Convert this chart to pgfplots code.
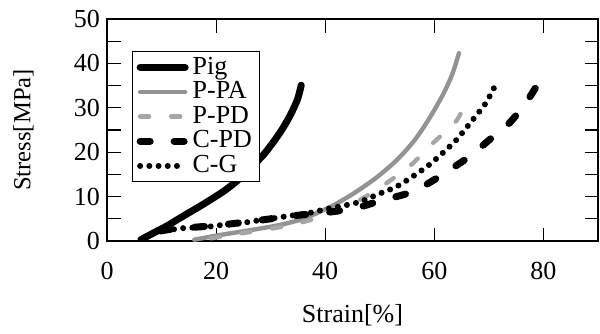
\documentclass[border=0pt]{standalone}
\usepackage{fontspec}
\setmainfont{Liberation Serif}
\usepackage{pgfplots}
\pgfplotsset{compat=1.18}
\usetikzlibrary{calc}
\begin{document}
\fontsize{13}{15.6}\selectfont
\begin{tikzpicture}
\begin{axis}[
  scale only axis, width=245.5pt, height=111pt,
  xmin=0, xmax=90, ymin=0, ymax=50,
  xtick={0,20,40,60,80}, ytick={0,10,...,50},
  minor ytick={5,15,...,45},
  tick align=inside, major tick length=6.75pt, minor tick length=6.75pt,
  every tick/.style={black, line width=0.6pt},
  axis line style={line width=0.8pt},
  /pgf/number format/assume math mode=true,
  tick label style={font=\fontsize{13}{15.6}\selectfont},
  xticklabel style={yshift=-6pt},
  yticklabel style={xshift=1pt},
  xlabel={Strain[\%]}, ylabel={Stress[MPa]},
  label style={font=\fontsize{13}{15.6}\selectfont},
  xlabel style={at={(axis description cs:0.5,-0.333)}, anchor=center},
  ylabel style={at={(axis description cs:-0.17,0.5)}, anchor=center, font=\fontsize{12.3}{15}\selectfont},
  legend style={at={(0.051,0.855)}, anchor=north west, draw=black, line width=0.6pt,
    inner xsep=2pt, inner ysep=0.5pt, row sep=-2.2pt, font=\fontsize{13}{15.6}\selectfont},
  legend cell align=left,
  legend image code/.code={\draw[#1] (0pt,0pt) -- (22.5pt,0pt);},
]
\addplot[black, line width=3.5pt, line cap=round, line join=round, smooth] coordinates {
(6.2,0.3)(8.5,1.8)(11,3.4)(13,4.9)(15.2,6.5)(17.4,8.1)(19.5,9.7)(21.5,11.3)(23.2,12.9)(24.8,14.6)(26.2,16.3)(28.6,19.3)(30.2,21.8)(31.7,24.4)(33,27)(34.1,29.6)(35,32.2)(35.6,35.1)};
\addlegendentry{Pig}
\addplot[gray!85, line width=2.2pt, line cap=round, smooth] coordinates {
(16,0.3)(20,1.2)(24,2)(28,2.8)(32,3.7)(36,5)(39,6.6)(41.3,7.9)(44,9.8)(46.3,11.6)(49.3,14.2)(52.4,17.4)(54.5,20)(56.5,22.9)(58.3,26.1)(60,29.5)(61.8,33.5)(63.3,37.6)(64.5,42.3)};
\addlegendentry{P-PA}
\addplot[gray!70, line width=2.2pt, line cap=round, dash pattern=on 4.5pt off 11pt, smooth] coordinates {
(64.8,28.6)(64,27)(62.7,25.4)(59,21.2)(56.5,18)(54.2,15.6)(52,13.7)(49.9,11.9)(47,9.7)(44,7.8)(40,5.8)(36,4.3)(32,3.2)(27,2.2)(22,1.2)(17,0.2)};
\addlegendentry{P-PD}
\addplot[black, line width=3.5pt, line cap=round, dash pattern=on 5pt off 12pt, smooth] coordinates {
(78.5,34.4)(76.7,31)(73.7,26.5)(70,22.7)(66.4,19)(60.9,14.5)(56,11.1)(49.9,9)(47,7.9)(43,6.9)(40,6.4)(35,5.8)(30,5)(25,4.2)(20,3.5)(16,3.1)(13,2.8)(10,2.3)(8,1.2)(6.5,0)};
\addlegendentry{C-PD}
\addplot[black, line width=3pt, line cap=round, dash pattern=on 0pt off 4.6pt, smooth] coordinates {
(70.9,34.4)(69.4,31)(67.5,28)(65.8,25.4)(64,22.7)(61.5,19.8)(59,17.1)(56,14.5)(53,12.2)(50,10.7)(46,8.7)(40.2,7.2)(36.6,6.2)(33,5.6)(30.5,5.1)(27,4.5)(24.4,4)(21,3.6)(18.3,3.2)(14,2.9)(12,2.6)(10,2.3)(8,1.5)(6.5,0.3)};
\addlegendentry{C-G}
\end{axis}
\pgfresetboundingbox
\path ($(current axis.south west)+(-53.5pt,-46pt)$) rectangle ($(current axis.north east)+(1pt,9.5pt)$);
\end{tikzpicture}
\end{document}
